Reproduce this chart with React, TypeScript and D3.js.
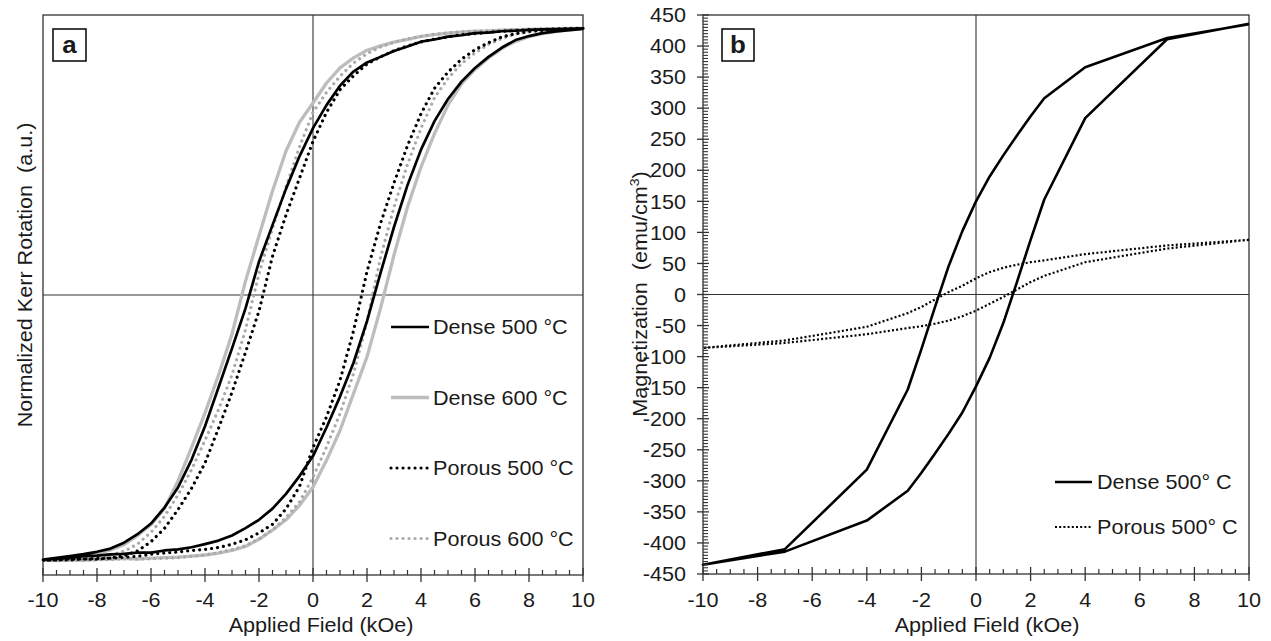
import React from "react";
import * as d3 from "d3";

// ---------- Panel a: normalized Kerr loops ----------
const fieldA = [
  -10, -9.5, -9, -8.5, -8, -7.5, -7, -6.5, -6, -5.5, -5, -4.5, -4, -3.5, -3, -2.5, -2, -1.5, -1, -0.5,
  0, 0.5, 1, 1.5, 2, 2.5, 3, 3.5, 4, 4.5, 5, 5.5, 6, 6.5, 7, 7.5, 8, 8.5, 9, 9.5, 10,
];

// descending branch (field swept from +10 to -10), listed in order of increasing field
const dense500Down = [
  -0.992, -0.986, -0.979, -0.972, -0.963, -0.951, -0.929, -0.897, -0.857, -0.797, -0.722, -0.618, -0.492,
  -0.347, -0.2, -0.05, 0.125, 0.262, 0.398, 0.52, 0.626, 0.712, 0.785, 0.838, 0.872, 0.893, 0.915, 0.932,
  0.95, 0.958, 0.969, 0.974, 0.982, 0.984, 0.989, 0.991, 0.994, 0.996, 0.997, 0.998, 1.0,
];
const dense500Up = [
  -0.996, -0.989, -0.986, -0.979, -0.977, -0.973, -0.971, -0.966, -0.966, -0.958, -0.954, -0.946, -0.934,
  -0.921, -0.902, -0.874, -0.843, -0.801, -0.746, -0.679, -0.604, -0.497, -0.381, -0.254, -0.098, 0.082,
  0.255, 0.412, 0.545, 0.652, 0.735, 0.8, 0.851, 0.893, 0.928, 0.956, 0.971, 0.982, 0.988, 0.993, 0.998,
];
const dense600Down = [
  -0.994, -0.991, -0.986, -0.979, -0.97, -0.956, -0.936, -0.902, -0.861, -0.801, -0.697, -0.572, -0.442,
  -0.301, -0.146, 0.052, 0.222, 0.39, 0.54, 0.648, 0.72, 0.795, 0.852, 0.889, 0.918, 0.934, 0.948, 0.959,
  0.97, 0.976, 0.982, 0.986, 0.989, 0.99, 0.993, 0.995, 0.996, 0.997, 0.998, 1.0, 1.0,
];
const dense600Up = [
  -0.995, -0.996, -0.993, -0.995, -0.991, -0.99, -0.988, -0.99, -0.987, -0.985, -0.983, -0.979, -0.975,
  -0.968, -0.958, -0.943, -0.916, -0.882, -0.843, -0.789, -0.72, -0.62, -0.508, -0.37, -0.232, -0.05, 0.15,
  0.33, 0.48, 0.605, 0.712, 0.792, 0.846, 0.889, 0.925, 0.951, 0.969, 0.98, 0.988, 0.994, 0.999,
];
const porous500Down = [
  -0.995, -0.993, -0.994, -0.99, -0.991, -0.986, -0.978, -0.96, -0.925, -0.875, -0.805, -0.725, -0.63, -0.5,
  -0.365, -0.215, -0.06, 0.145, 0.3, 0.438, 0.576, 0.685, 0.77, 0.822, 0.866, 0.893, 0.916, 0.934, 0.949,
  0.96, 0.968, 0.976, 0.98, 0.985, 0.989, 0.992, 0.995, 0.996, 0.998, 0.999, 1.0,
];
const porous500Up = [
  -0.996, -0.993, -0.99, -0.99, -0.988, -0.987, -0.984, -0.98, -0.972, -0.968, -0.964, -0.958, -0.954,
  -0.947, -0.935, -0.918, -0.892, -0.86, -0.802, -0.718, -0.572, -0.457, -0.32, -0.135, 0.088, 0.268, 0.42,
  0.56, 0.68, 0.775, 0.836, 0.884, 0.92, 0.946, 0.968, 0.98, 0.988, 0.992, 0.995, 0.997, 1.0,
];
const porous600Down = [
  -0.996, -0.994, -0.993, -0.99, -0.985, -0.976, -0.961, -0.934, -0.89, -0.83, -0.75, -0.655, -0.545, -0.43,
  -0.3, -0.13, 0.08, 0.25, 0.405, 0.555, 0.685, 0.76, 0.82, 0.87, 0.905, 0.93, 0.948, 0.96, 0.97, 0.978,
  0.983, 0.987, 0.99, 0.992, 0.994, 0.995, 0.997, 0.998, 0.999, 1.0, 1.0,
];
const porous600Up = [
  -0.996, -0.995, -0.995, -0.994, -0.993, -0.992, -0.99, -0.99, -0.989, -0.987, -0.985, -0.98, -0.975,
  -0.966, -0.955, -0.94, -0.915, -0.88, -0.835, -0.776, -0.683, -0.57, -0.445, -0.295, -0.1, 0.14, 0.33,
  0.49, 0.625, 0.74, 0.812, 0.868, 0.908, 0.94, 0.962, 0.978, 0.987, 0.991, 0.994, 0.997, 1.0,
];

const seriesNamesA = ["Dense 500 °C", "Dense 600 °C", "Porous 500 °C", "Porous 600 °C"];

// ---------- Panel b: VSM loops ----------
const fieldB = [-10, -7, -4, -2.5, -2, -1.5, -1, -0.5, 0, 0.5, 1, 1.5, 2, 2.5, 4, 7, 10];
const denseMDown = [-435, -410, -282, -153, -88, -20, 46, 102, 150, 190, 224, 256, 287, 316, 366, 413, 435];
const denseMUp = [-435, -414, -364, -316, -287, -256, -224, -190, -148, -102, -46, 20, 88, 153, 284, 411, 436];
const porousMDown = [-86, -74, -52, -30, -20, -8, 4, 14, 26, 36, 43, 48, 52, 55, 65, 79, 88];
const porousMUp = [-87, -78, -64, -54, -51, -47, -42, -35, -26, -15, -4, 8, 20, 30, 52, 74, 88];

const seriesNamesB = ["Dense 500° C", "Porous 500° C"];

const xTickValues = [-10, -8, -6, -4, -2, 0, 2, 4, 6, 8, 10];
const yTickValuesB = [-450, -400, -350, -300, -250, -200, -150, -100, -50, 0, 50, 100, 150, 200, 250, 300, 350, 400, 450];

const FONT = "'Liberation Sans', Arial, Helvetica, sans-serif";
const TXT = "#1a1a1a";
const AX = "#333";
const STRETCH = 1.08;

type Style = { stroke: string; width: number; dash?: string; cap?: "round" | "butt" };

const styleA: Style[] = [
  { stroke: "#000", width: 2.7 },
  { stroke: "#bdbdbd", width: 3.3 },
  { stroke: "#000", width: 3.2, dash: "0.01 6", cap: "round" },
  { stroke: "#a9a9a9", width: 3.2, dash: "0.01 6", cap: "round" },
];
const styleB: Style[] = [
  { stroke: "#000", width: 2.6 },
  { stroke: "#000", width: 2.2, dash: "2 2.2", cap: "butt" },
];

function loopPoints(field: number[], down: number[], up: number[]): [number, number][] {
  const d: [number, number][] = field.map((f, i) => [f, down[i]] as [number, number]).reverse();
  const u: [number, number][] = field.map((f, i) => [f, up[i]] as [number, number]);
  return [...d, ...u.slice(1)];
}

type TProps = {
  x: number;
  y: number;
  anchor?: "start" | "middle" | "end";
  size?: number;
  rotate?: boolean;
  dy?: string;
  weight?: string;
  children: React.ReactNode;
};

// Label text in a slightly widened sans face
function T({ x, y, anchor = "start", size = 20, rotate = false, dy, weight, children }: TProps) {
  return (
    <text
      transform={`translate(${x},${y})${rotate ? " rotate(-90)" : ""} scale(${STRETCH},1)`}
      textAnchor={anchor}
      fontSize={size}
      fontFamily={FONT}
      fontWeight={weight}
      fill={TXT}
      dy={dy}
      style={{ whiteSpace: "pre" }}
    >
      {children}
    </text>
  );
}

export default function App() {
  // panel a geometry
  const xA = d3.scaleLinear().domain([-10, 10]).range([43, 583]);
  const yA = d3.scaleLinear().domain([-1.05, 1.05]).range([575, 15]);
  // panel b geometry
  const xB = d3.scaleLinear().domain([-10, 10]).range([703, 1249]);
  const yB = d3.scaleLinear().domain([-450, 450]).range([574, 15]);

  const lineA = d3
    .line<[number, number]>()
    .x((d) => xA(d[0]))
    .y((d) => yA(d[1]));
  const lineB = d3
    .line<[number, number]>()
    .x((d) => xB(d[0]))
    .y((d) => yB(d[1]));

  const loopsA = [
    loopPoints(fieldA, dense500Down, dense500Up),
    loopPoints(fieldA, dense600Down, dense600Up),
    loopPoints(fieldA, porous500Down, porous500Up),
    loopPoints(fieldA, porous600Down, porous600Up),
  ];
  const drawOrderA = [1, 3, 0, 2];

  const loopsB = [
    loopPoints(fieldB, denseMDown, denseMUp),
    loopPoints(fieldB, porousMDown, porousMUp),
  ];

  const minorX = xA.ticks(40).filter((t) => !xTickValues.includes(t));
  const minorYB = yB.ticks(180).filter((t) => !yTickValuesB.includes(t));

  // x axis with the title centred over the whole panel (slightly right of the plot centre)
  const xAxis = (x: d3.ScaleLinear<number, number>, y0: number, titleX: number, key: string) => (
    <g key={key}>
      {minorX.map((t) => (
        <line key={"m" + t} x1={x(t)} x2={x(t)} y1={y0 - 5} y2={y0} stroke={AX} strokeWidth={1.2} />
      ))}
      {xTickValues.map((t) => (
        <g key={"M" + t}>
          <line x1={x(t)} x2={x(t)} y1={y0 - 7} y2={y0 + 7} stroke={AX} strokeWidth={1.3} />
          <T x={x(t)} y={607} anchor="middle">
            {String(t)}
          </T>
        </g>
      ))}
      <T x={titleX} y={632} anchor="middle">
        Applied Field (kOe)
      </T>
    </g>
  );

  const legendA = seriesNamesA.map((name, i) => {
    const cy = 327 + i * 70.5;
    const s = styleA[i];
    return (
      <g key={name}>
        <line
          x1={391}
          x2={429}
          y1={cy}
          y2={cy}
          stroke={s.stroke}
          strokeWidth={s.width}
          strokeDasharray={s.dash}
          strokeLinecap={s.cap ?? "butt"}
        />
        <T x={433} y={cy + 7}>
          {name}
        </T>
      </g>
    );
  });

  const legendB = seriesNamesB.map((name, i) => {
    const cy = 482 + i * 45;
    const s = styleB[i];
    return (
      <g key={name}>
        <line
          x1={1055}
          x2={1092}
          y1={cy}
          y2={cy}
          stroke={s.stroke}
          strokeWidth={i === 1 ? 1.8 : s.width}
          strokeDasharray={s.dash}
          strokeLinecap={s.cap ?? "butt"}
        />
        <T x={1097} y={cy + 7}>
          {name}
        </T>
      </g>
    );
  });

  return (
    <svg
      width={1271}
      height={641}
      viewBox="0 0 1271 641"
      style={{ position: "absolute", left: 0, top: 0, background: "#fff" }}
    >
      <rect x={0} y={0} width={1271} height={641} fill="#fff" />

      {/* ---------------- panel a ---------------- */}
      <rect x={43} y={15} width={540} height={560} fill="none" stroke={AX} strokeWidth={1.3} />
      <line x1={xA(0)} x2={xA(0)} y1={15} y2={575} stroke={AX} strokeWidth={1.1} />
      <line x1={43} x2={583} y1={yA(0)} y2={yA(0)} stroke={AX} strokeWidth={1.1} />
      {drawOrderA.map((i) => {
        const s = styleA[i];
        return (
          <path
            key={"a" + i}
            d={lineA(loopsA[i]) ?? ""}
            fill="none"
            stroke={s.stroke}
            strokeWidth={s.width}
            strokeDasharray={s.dash}
            strokeLinecap={s.cap ?? "butt"}
            strokeLinejoin="round"
          />
        );
      })}
      {xAxis(xA, 575, 321, "xa")}
      {legendA}
      <rect x={53} y={29} width={33} height={32} fill="#fff" stroke="#111" strokeWidth={1.6} />
      <T x={69.5} y={53} anchor="middle" size={24} weight="bold">
        a
      </T>
      <T x={32} y={275} anchor="middle" rotate>
        {"Normalized Kerr Rotation  (a.u.)"}
      </T>

      {/* ---------------- panel b ---------------- */}
      <rect x={703} y={15} width={546} height={559} fill="none" stroke={AX} strokeWidth={1.3} />
      <line x1={xB(0)} x2={xB(0)} y1={15} y2={574} stroke={AX} strokeWidth={1.1} />
      <line x1={703} x2={1249} y1={yB(0)} y2={yB(0)} stroke={AX} strokeWidth={1.1} />
      {loopsB.map((pts, i) => {
        const s = styleB[i];
        return (
          <path
            key={"b" + i}
            d={lineB(pts) ?? ""}
            fill="none"
            stroke={s.stroke}
            strokeWidth={s.width}
            strokeDasharray={s.dash}
            strokeLinecap={s.cap ?? "butt"}
            strokeLinejoin="round"
          />
        );
      })}
      {minorYB.map((t) => (
        <line key={"ym" + t} x1={703} x2={708} y1={yB(t)} y2={yB(t)} stroke={AX} strokeWidth={1.1} />
      ))}
      {yTickValuesB.map((t) => (
        <g key={"yM" + t}>
          <line x1={697} x2={709} y1={yB(t)} y2={yB(t)} stroke={AX} strokeWidth={1.3} />
          <T x={686} y={yB(t)} dy="0.36em" anchor="end">
            {String(t)}
          </T>
        </g>
      ))}
      {xAxis(xB, 574, 987, "xb")}
      {legendB}
      <rect x={722} y={29} width={32} height={32} fill="#fff" stroke="#111" strokeWidth={1.6} />
      <T x={738} y={53} anchor="middle" size={24} weight="bold">
        b
      </T>
      <T x={647} y={294} anchor="middle" rotate>
        {"Magnetization  (emu/cm"}
        <tspan fontSize={13} dy={-8}>
          3
        </tspan>
        <tspan dy={8}>)</tspan>
      </T>
    </svg>
  );
}
